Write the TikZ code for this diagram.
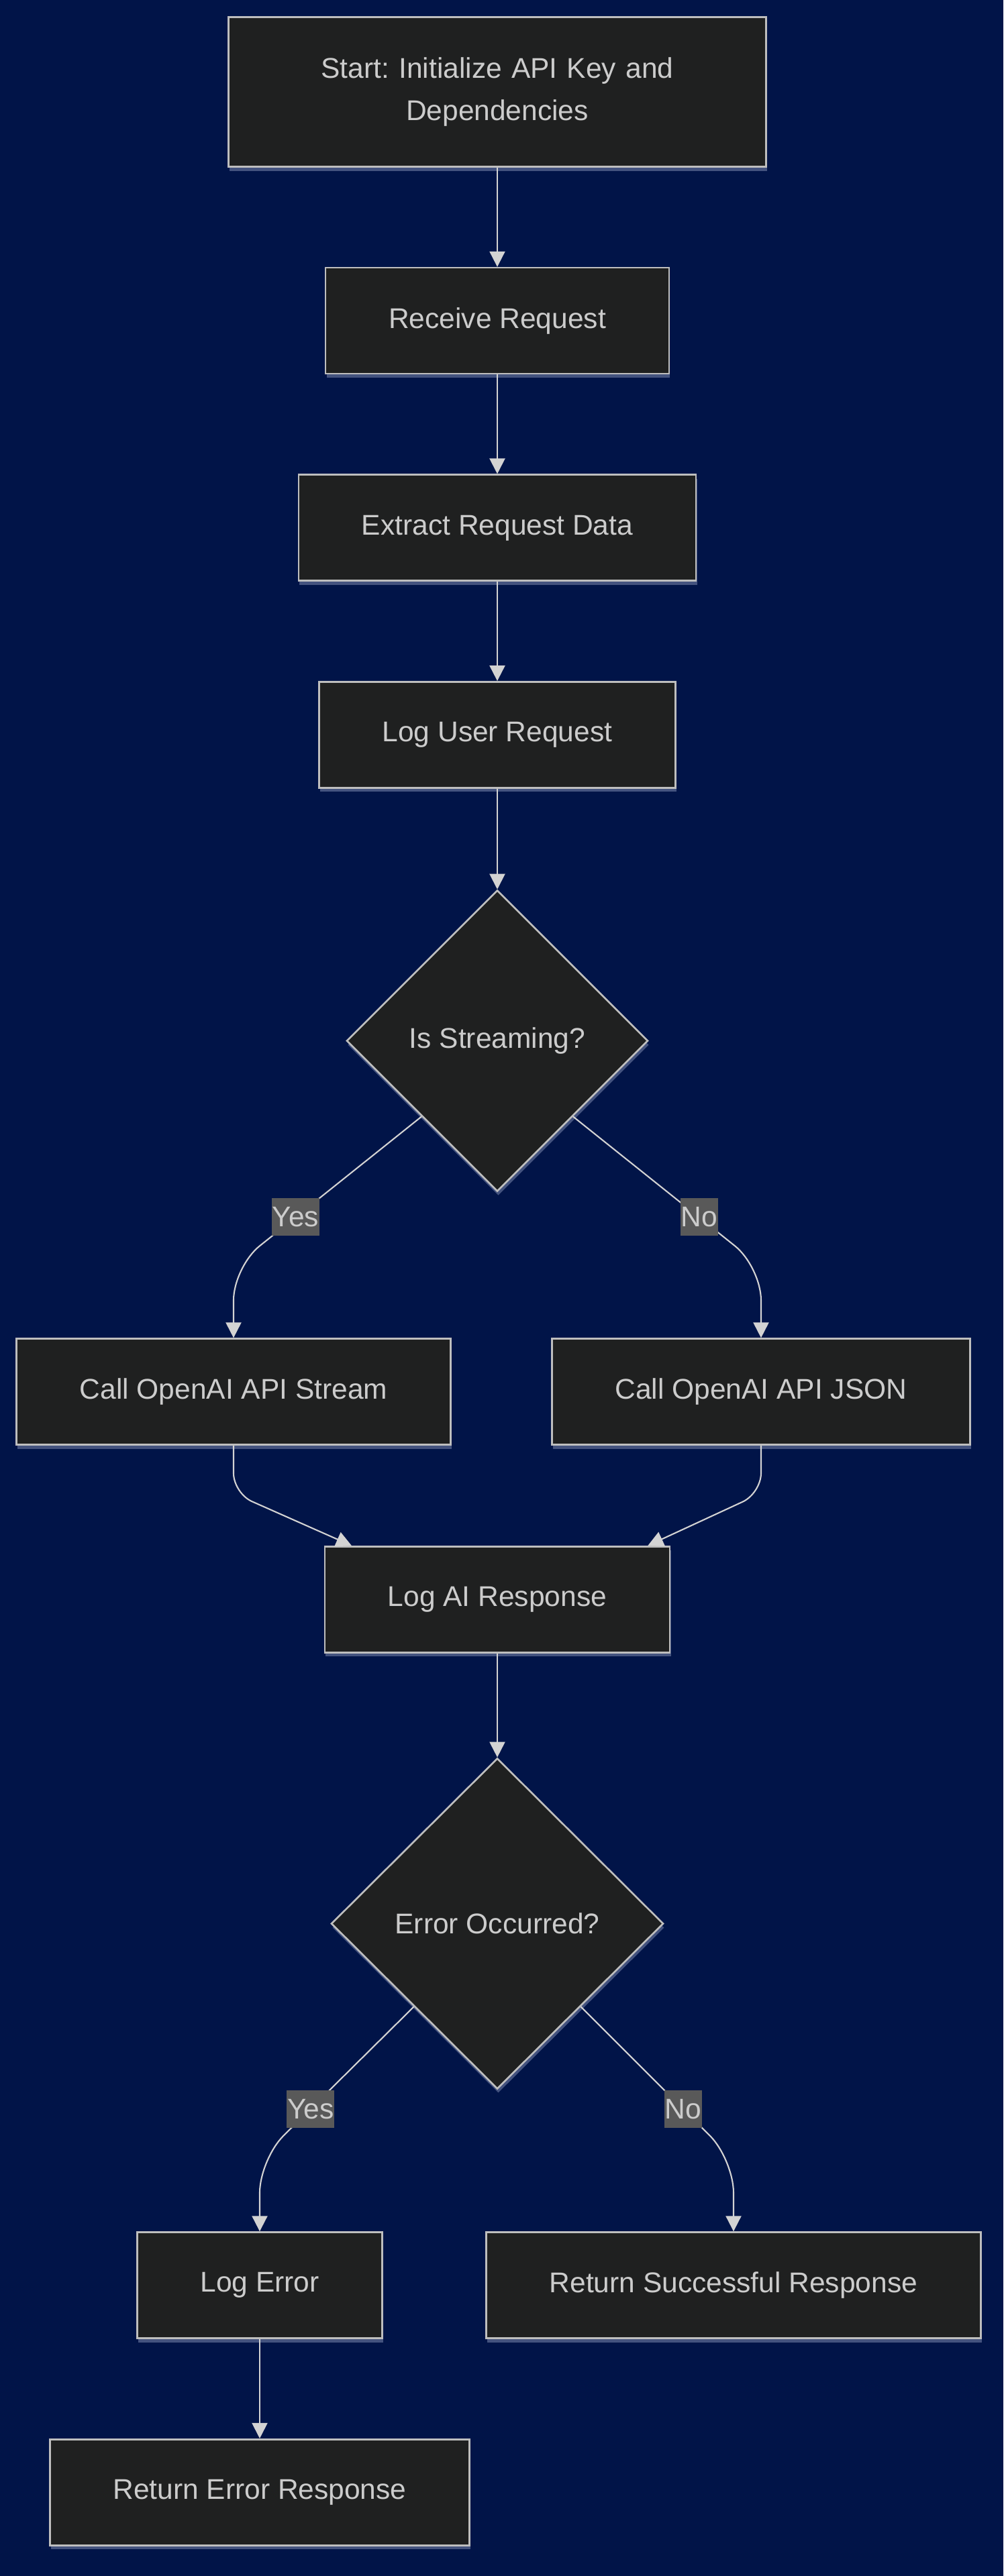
\documentclass[tikz,border=0pt]{standalone}
\usepackage{fontspec}
\setmainfont{Liberation Sans}
\usepackage{tikz}
\usetikzlibrary{arrows.meta, positioning, calc, shapes.geometric, shadows}
\definecolor{pagenavy}{RGB}{1, 20, 72}
\definecolor{boxfill}{RGB}{31, 32, 32}
\definecolor{boxline}{RGB}{190, 190, 190}
\definecolor{flowtext}{RGB}{204, 204, 204}
\definecolor{edgegray}{RGB}{211, 211, 211}
\definecolor{tagfill}{RGB}{89, 89, 89}
\definecolor{glow}{RGB}{150, 160, 195}
\frenchspacing

\begin{document}
\begin{tikzpicture}[
  node distance=2.96cm,
  every node/.style={font=\fontsize{24.2pt}{36.4pt}\selectfont, text=flowtext},
  box/.style={
    draw=boxline, fill=boxfill, line width=1.5pt,
    minimum height=3.16cm, inner xsep=1.88cm, align=center,
    drop shadow={shadow xshift=0.03cm, shadow yshift=-0.12cm, fill=glow, opacity=0.45}
  },
  decision/.style={
    diamond, draw=boxline, fill=boxfill, line width=1.5pt,
    inner sep=0pt, align=center,
    drop shadow={shadow xshift=0.03cm, shadow yshift=-0.12cm, fill=glow, opacity=0.45}
  },
  arrow/.style={-{Triangle[length=0.46cm, width=0.46cm]}, line width=1.2pt, draw=edgegray},
  tag/.style={fill=tagfill, sharp corners, inner xsep=0.5pt, inner ysep=0pt, minimum height=1.12cm}
]

  % Sfondo e dimensioni della pagina
  \path[use as bounding box, fill=pagenavy] (-14.82,2.74) rectangle (15.08,-74.06);

  % Colonna centrale
  \node[box, text width=12.26cm, minimum height=4.46cm] (start) at (0,0) {Start: Initialize API Key and\\Dependencies};
  \node[box, below=of start] (receive) {Receive Request};
  \node[box, below=of receive] (extract) {Extract Request Data};
  \node[box, below=of extract] (logreq) {Log User Request};
  \node[decision, below=3.0cm of logreq, minimum width=8.98cm, minimum height=8.98cm] (isstream) {Is Streaming?};

  % Rami della chiamata
  \node[box, below=4.34cm of isstream, xshift=-7.86cm] (stream) {Call OpenAI API Stream};
  \node[box, below=4.34cm of isstream, xshift=7.86cm] (json) {Call OpenAI API JSON};
  \node[box, anchor=north, yshift=-2.98cm] (logai) at ($(stream.south)!0.5!(json.south)$) {Log AI Response};
  \node[decision, below=3.1cm of logai, minimum width=9.9cm, minimum height=9.86cm] (errq) {Error Occurred?};

  % Rami finali
  \node[box, below=4.22cm of errq, xshift=-7.08cm] (logerr) {Log Error};
  \node[box, below=4.22cm of errq, xshift=7.04cm] (retok) {Return Successful Response};
  \node[box, below=of logerr] (reterr) {Return Error Response};

  % Frecce verticali
  \draw[arrow] (start) -- (receive);
  \draw[arrow] (receive) -- (extract);
  \draw[arrow] (extract) -- (logreq);
  \draw[arrow] (logreq) -- (isstream);
  \draw[arrow] (logai) -- (errq);
  \draw[arrow] (logerr) -- (reterr);

  % Decisione streaming
  \draw[arrow, rounded corners=1cm] (isstream.south west)
    -- node[tag, pos=0.67] {Yes} ($(stream.north)+(0,2.12)$) -- (stream.north);
  \draw[arrow, rounded corners=1cm] (isstream.south east)
    -- node[tag, pos=0.67] {No} ($(json.north)+(0,2.12)$) -- (json.north);

  % Ricongiungimento su Log AI Response
  \draw[arrow, rounded corners=0.6cm] (stream.south) -- ++(0,-1.42)
    -- ($(logai.north west)!0.08!(logai.north east)$);
  \draw[arrow, rounded corners=0.6cm] (json.south) -- ++(0,-1.42)
    -- ($(logai.north west)!0.934!(logai.north east)$);

  % Decisione errore
  \draw[arrow, rounded corners=1cm] (errq.south west)
    -- node[tag, pos=0.67] {Yes} ($(logerr.north)+(0,2.15)$) -- (logerr.north);
  \draw[arrow, rounded corners=1cm] (errq.south east)
    -- node[tag, pos=0.67] {No} ($(retok.north)+(0,2.15)$) -- (retok.north);

\end{tikzpicture}
\end{document}
